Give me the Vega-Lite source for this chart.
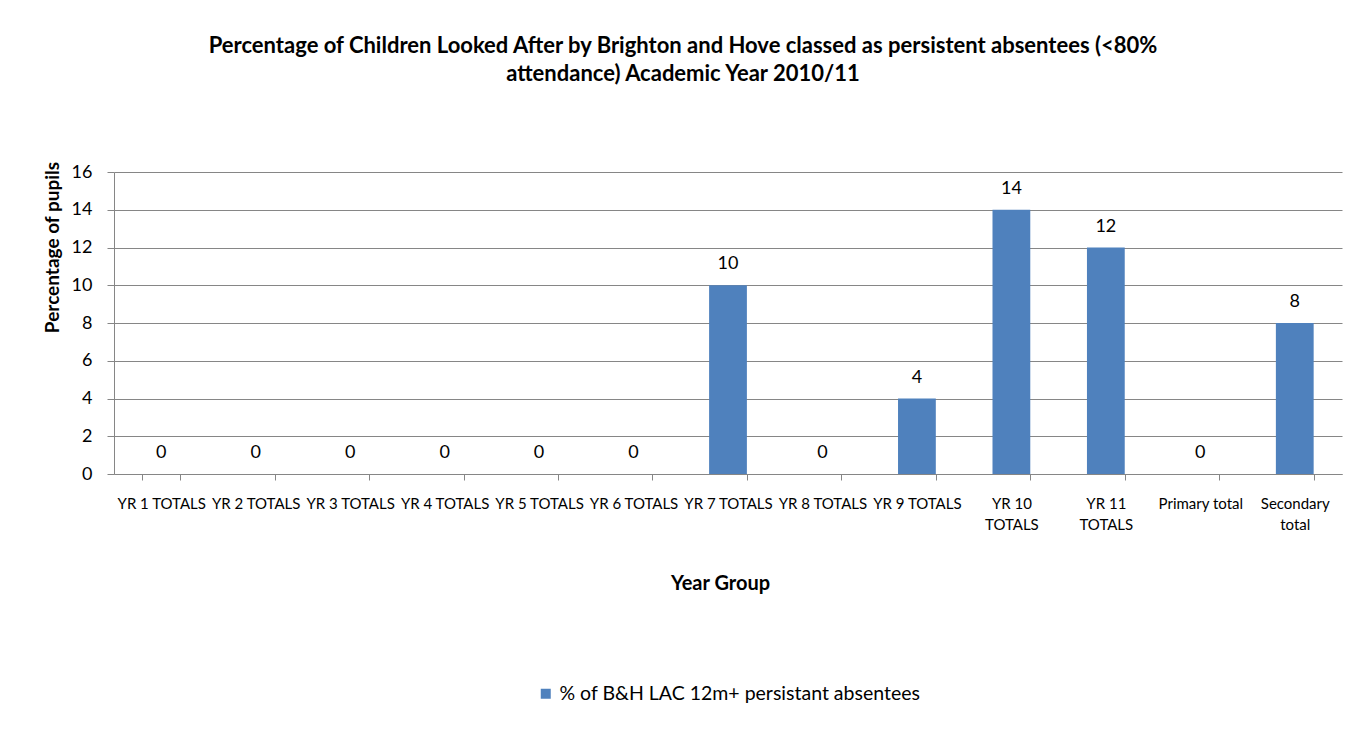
{
  "$schema": "https://vega.github.io/schema/vega-lite/v6.json",
  "width": 1228,
  "height": 302,
  "autosize": {"type": "none"},
  "padding": {"left": 114, "top": 172, "right": 12, "bottom": 264},
  "background": "white",
  "config": {
    "font": "Lato",
    "view": {"stroke": null},
    "axis": {"labelColor": "#000", "titleColor": "#000", "domainColor": "#868686", "tickColor": "#868686", "gridColor": "#868686"}
  },
  "title": {
    "text": ["Percentage of Children Looked After by Brighton and Hove classed as persistent absentees (<80%", "attendance) Academic Year 2010/11"],
    "fontSize": 22,
    "fontWeight": "bold",
    "color": "#000",
    "anchor": "middle",
    "dx": -45,
    "offset": 75,
    "lineHeight": 28
  },
  "data": {
    "values": [
      {"group": "YR 1 TOTALS", "value": 0, "series": "% of B&H LAC 12m+ persistant absentees"},
      {"group": "YR 2 TOTALS", "value": 0, "series": "% of B&H LAC 12m+ persistant absentees"},
      {"group": "YR 3 TOTALS", "value": 0, "series": "% of B&H LAC 12m+ persistant absentees"},
      {"group": "YR 4 TOTALS", "value": 0, "series": "% of B&H LAC 12m+ persistant absentees"},
      {"group": "YR 5 TOTALS", "value": 0, "series": "% of B&H LAC 12m+ persistant absentees"},
      {"group": "YR 6 TOTALS", "value": 0, "series": "% of B&H LAC 12m+ persistant absentees"},
      {"group": "YR 7 TOTALS", "value": 10, "series": "% of B&H LAC 12m+ persistant absentees"},
      {"group": "YR 8 TOTALS", "value": 0, "series": "% of B&H LAC 12m+ persistant absentees"},
      {"group": "YR 9 TOTALS", "value": 4, "series": "% of B&H LAC 12m+ persistant absentees"},
      {"group": "YR 10 TOTALS", "value": 14, "series": "% of B&H LAC 12m+ persistant absentees"},
      {"group": "YR 11 TOTALS", "value": 12, "series": "% of B&H LAC 12m+ persistant absentees"},
      {"group": "Primary total", "value": 0, "series": "% of B&H LAC 12m+ persistant absentees"},
      {"group": "Secondary total", "value": 8, "series": "% of B&H LAC 12m+ persistant absentees"}
    ]
  },
  "encoding": {
    "x": {
      "field": "group",
      "type": "nominal",
      "sort": null,
      "scale": {"paddingInner": 0.6, "paddingOuter": 0.3},
      "axis": {
        "title": "Year Group",
        "titleFontSize": 20,
        "titleFontWeight": "bold",
        "titleX": 606,
        "titleY": 109,
        "titleBaseline": "middle",
        "labelAngle": 0,
        "labelFontSize": 15,
        "labelPadding": 16,
        "labelLineHeight": 21,
        "labelOverlap": false,
        "labelExpr": "datum.value == 'YR 10 TOTALS' ? ['YR 10', 'TOTALS'] : datum.value == 'YR 11 TOTALS' ? ['YR 11', 'TOTALS'] : datum.value == 'Secondary total' ? ['Secondary', '   total'] : datum.value",
        "tickBand": "extent",
        "tickSize": 6,
        "grid": false
      }
    },
    "y": {
      "field": "value",
      "type": "quantitative",
      "scale": {"domain": [0, 16]},
      "axis": {
        "title": "Percentage of pupils",
        "titleFontSize": 19,
        "titleFontWeight": "bold",
        "titleAngle": 270,
        "titleX": -62,
        "titleY": 75,
        "titleAlign": "center",
        "titleBaseline": "middle",
        "values": [0, 2, 4, 6, 8, 10, 12, 14, 16],
        "labelFontSize": 18,
        "labelPadding": 15,
        "tickSize": 7,
        "grid": true
      }
    }
  },
  "layer": [
    {
      "mark": {"type": "bar"},
      "encoding": {
        "color": {
          "field": "series",
          "type": "nominal",
          "scale": {"range": ["#4F81BD"]},
          "legend": {
            "title": null,
            "orient": "none",
            "legendX": 422,
            "legendY": 512,
            "symbolType": "square",
            "symbolSize": 100,
            "symbolStrokeWidth": 0,
            "labelFontSize": 19.5,
            "labelLimit": 0,
            "labelColor": "#000"
          }
        }
      }
    },
    {
      "mark": {"type": "text", "dy": -21, "fontSize": 18, "color": "#000", "baseline": "middle"},
      "encoding": {"text": {"field": "value", "type": "quantitative"}}
    }
  ]
}
